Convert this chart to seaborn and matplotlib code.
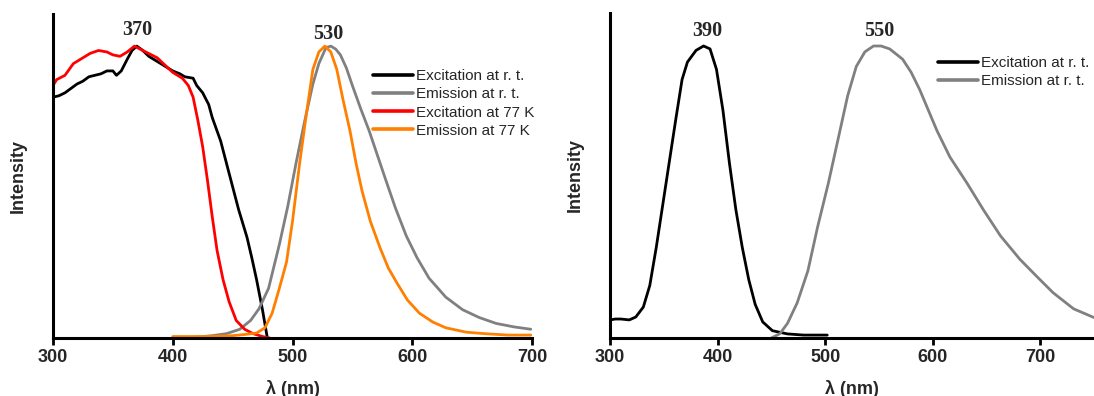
import numpy as np
import pandas as pd
import matplotlib
matplotlib.use('Agg')
import matplotlib.pyplot as plt
import seaborn as sns

# ─── Data ─────────────────────────────────────────────────────────────────────
# left panel
exc_rt_nm = [300, 305, 310, 315, 320, 325, 330, 335, 340, 345, 350, 353, 357, 362, 366, 370,
             375, 380, 390, 400, 406, 410, 417, 420, 425, 430, 433, 440, 447, 455, 462, 466,
             470, 475, 479]
exc_rt_I = [0.825, 0.83, 0.84, 0.855, 0.87, 0.88, 0.895, 0.90, 0.905, 0.915, 0.915, 0.90, 0.915,
            0.955, 0.985, 1.0, 0.985, 0.965, 0.94, 0.915, 0.905, 0.895, 0.89, 0.865, 0.84, 0.80,
            0.755, 0.675, 0.565, 0.44, 0.345, 0.275, 0.20, 0.095, 0.0]

exc_77_nm = [300, 303, 310, 317, 325, 331, 338, 345, 350, 356, 362, 368, 375, 387, 400, 408,
             413, 417, 421, 425, 429, 433, 437, 442, 447, 453, 460, 467, 475, 481]
exc_77_I = [0.865, 0.885, 0.90, 0.94, 0.96, 0.975, 0.985, 0.98, 0.97, 0.965, 0.98, 1.0, 0.985,
            0.96, 0.91, 0.89, 0.865, 0.825, 0.745, 0.655, 0.54, 0.415, 0.30, 0.20, 0.125, 0.06,
            0.03, 0.015, 0.005, 0.0]

em_rt_nm = [400, 420, 433, 445, 456, 465, 472, 480, 489, 496, 503, 510, 517, 522, 528, 532,
            536, 540, 545, 550, 557, 564, 571, 578, 586, 595, 604, 614, 628, 642, 656, 670, 685,
            699]
em_rt_I = [0.0, 0.003, 0.008, 0.015, 0.03, 0.06, 0.10, 0.17, 0.32, 0.45, 0.60, 0.74, 0.87, 0.94,
           0.995, 1.0, 0.99, 0.97, 0.925, 0.865, 0.785, 0.71, 0.625, 0.54, 0.445, 0.35, 0.275,
           0.205, 0.14, 0.097, 0.07, 0.05, 0.038, 0.03]

em_77_nm = [400, 430, 450, 460, 470, 477, 483, 489, 495, 500, 506, 511, 517, 522, 527, 532, 537,
            542, 548, 553, 558, 565, 573, 580, 587, 596, 606, 617, 628, 645, 660, 680, 699]
em_77_I = [0.005, 0.005, 0.008, 0.012, 0.017, 0.035, 0.085, 0.17, 0.26, 0.40, 0.60, 0.75, 0.92,
           0.98, 1.0, 0.98, 0.92, 0.82, 0.71, 0.60, 0.505, 0.40, 0.31, 0.24, 0.19, 0.13, 0.085,
           0.055, 0.035, 0.02, 0.015, 0.01, 0.01]

# right panel
exc2_nm = [300, 305, 310, 318, 324, 331, 337, 343, 349, 355, 361, 367, 372, 380, 387, 393, 399,
           405, 411, 417, 423, 429, 435, 442, 451, 465, 480, 502]
exc2_I = [0.062, 0.065, 0.065, 0.062, 0.072, 0.106, 0.18, 0.31, 0.455, 0.60, 0.745, 0.885, 0.945,
          0.985, 1.0, 0.99, 0.92, 0.78, 0.60, 0.44, 0.31, 0.20, 0.115, 0.055, 0.025, 0.014, 0.01,
          0.01]

em2_nm = [450, 458, 465, 474, 484, 493, 503, 512, 521, 529, 537, 545, 552, 560, 572, 580, 588,
          596, 604, 616, 632, 647, 663, 681, 697, 712, 731, 750]
em2_I = [0.0, 0.015, 0.05, 0.12, 0.23, 0.38, 0.53, 0.68, 0.83, 0.93, 0.98, 1.0, 1.0, 0.99, 0.955,
         0.91, 0.85, 0.78, 0.71, 0.62, 0.53, 0.44, 0.35, 0.27, 0.21, 0.155, 0.10, 0.07]

left_labels = ["Excitation at r. t.", "Emission at r. t.", "Excitation at 77 K", "Emission at 77 K"]
left_colors = ["#000000", "#808080", "#ff0000", "#ff8000"]
right_labels = ["Excitation at r. t.", "Emission at r. t."]
right_colors = ["#000000", "#808080"]

left_peaks = [(370, 1.055, "370"), (530, 1.04, "530")]
right_peaks = [(390, 1.05, "390"), (550, 1.05, "550")]


def long_df(series):
    parts = []
    for label, nm, inten in series:
        parts.append(pd.DataFrame({"nm": nm, "I": inten, "series": label}))
    return pd.concat(parts, ignore_index=True)


df_left = long_df(zip(left_labels, [exc_rt_nm, em_rt_nm, exc_77_nm, em_77_nm],
                      [exc_rt_I, em_rt_I, exc_77_I, em_77_I]))
df_right = long_df(zip(right_labels, [exc2_nm, em2_nm], [exc2_I, em2_I]))

# ─── Style ────────────────────────────────────────────────────────────────────
sns.set_style("ticks")
plt.rcParams["font.family"] = ["Liberation Sans", "DejaVu Sans"]

W, H = 1094, 396
fig = plt.figure(figsize=(W / 100, H / 100), dpi=100)

def px_axes(x0, x1, y0, y1):
    return fig.add_axes([x0 / W, 1 - y1 / H, (x1 - x0) / W, (y1 - y0) / H])

ax1 = px_axes(53, 532, 14, 338)
ax2 = px_axes(610, 1094, 13, 338)

panels = [
    (ax1, df_left, left_labels, left_colors, left_peaks, (300, 700), 1.11, (373, 69)),
    (ax2, df_right, right_labels, right_colors, right_peaks, (300, 750), 1.113, (938, 56)),
]

for ax, df, labels, colors, peaks, xlim, ytop, leg_xy in panels:
    sns.lineplot(data=df, x="nm", y="I", hue="series", hue_order=labels,
                 palette=dict(zip(labels, colors)), sort=False, estimator=None,
                 linewidth=2.0, ax=ax)
    ax.set_xlim(*xlim)
    ax.set_ylim(0, ytop)
    ax.set_xticks([300, 400, 500, 600, 700])
    ax.set_yticks([])
    for lbl in ax.get_xticklabels():
        lbl.set_fontweight("bold")
    ax.tick_params(axis="x", labelsize=13, width=2, length=5, pad=3, color="black")
    for s in ["top", "right"]:
        ax.spines[s].set_visible(False)
    for s in ["left", "bottom"]:
        ax.spines[s].set_linewidth(2.2)
        ax.spines[s].set_color("black")
    ax.set_xlabel("λ (nm)", fontsize=13, fontweight="bold", labelpad=10)
    ax.set_ylabel("Intensity", fontsize=13, fontweight="bold", labelpad=19)

    # peak wavelength labels
    for x, y, txt in peaks:
        ax.text(x, y, txt, ha="center", va="center", fontsize=14.5, fontweight="bold",
                family=["Liberation Serif", "DejaVu Serif"])

    handles, hl = ax.get_legend_handles_labels()
    for h in handles:
        h.set_linewidth(2.6)
    ax.legend(handles, hl, loc="upper left", frameon=False, fontsize=11,
              bbox_to_anchor=(leg_xy[0] / W, 1 - leg_xy[1] / H),
              bbox_transform=fig.transFigure, borderpad=0, borderaxespad=0,
              handlelength=2.6, handletextpad=0.2, labelspacing=0.28)

fig.savefig("out.png", dpi=100)
plt.close(fig)
